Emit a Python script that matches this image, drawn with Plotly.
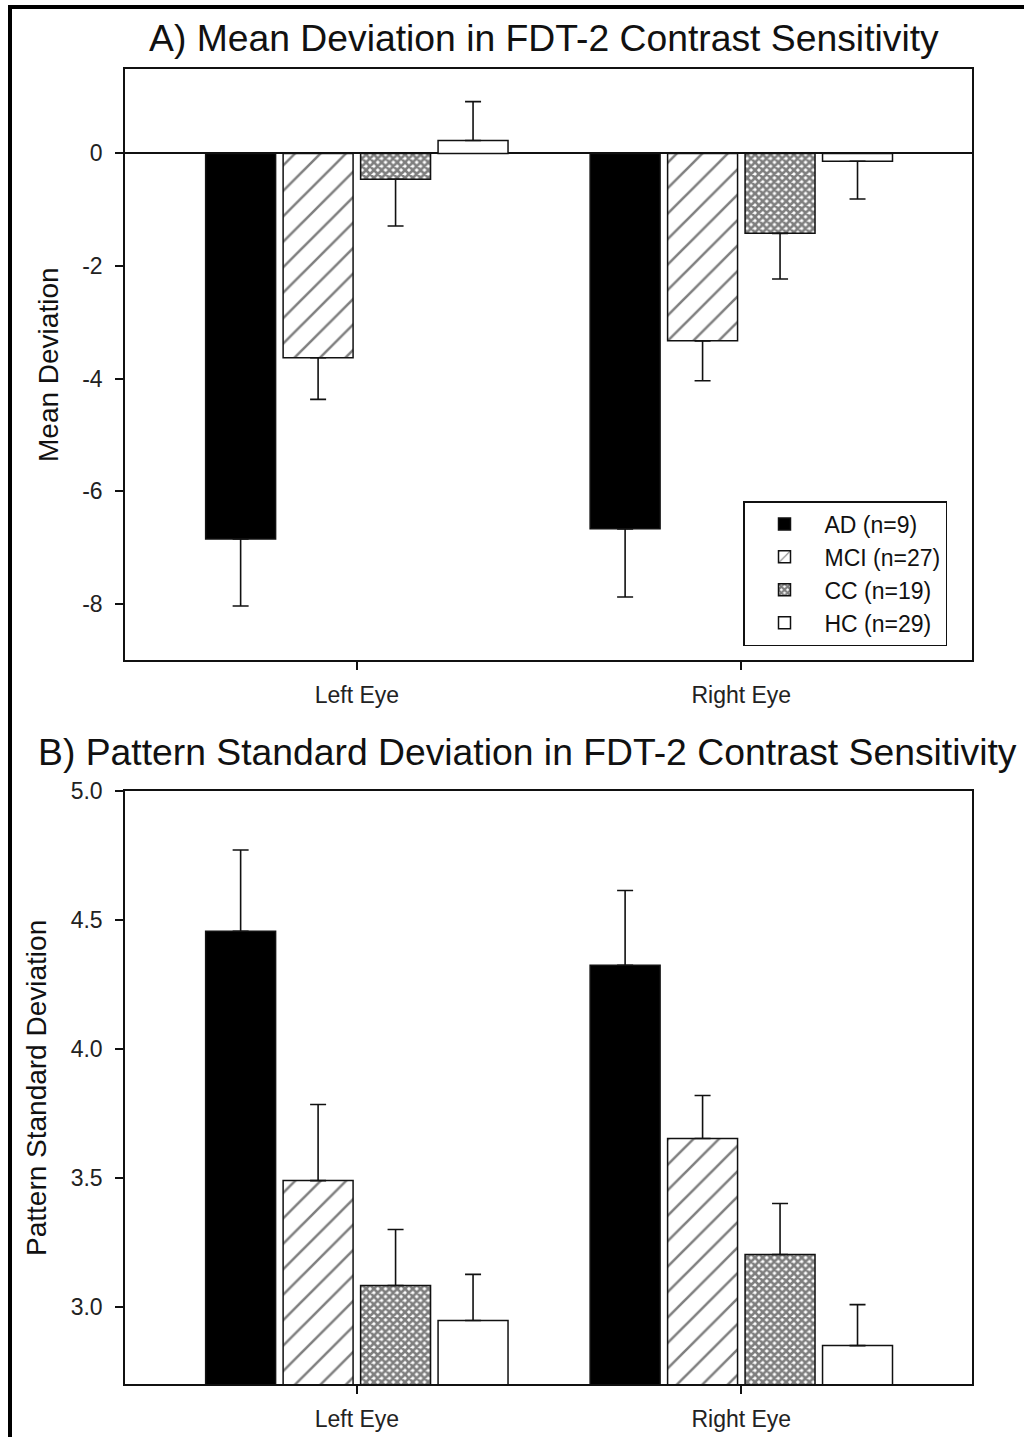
import plotly.graph_objects as go

# ---------------- data ----------------
groups = ["Left Eye", "Right Eye"]
group_pos = [0, 1]
series = ["AD (n=9)", "MCI (n=27)", "CC (n=19)", "HC (n=29)"]

md_AD = [-6.85, -6.67]
md_AD_err = [1.19, 1.21]
md_MCI = [-3.63, -3.33]
md_MCI_err = [0.74, 0.71]
md_CC = [-0.46, -1.42]
md_CC_err = [0.83, 0.81]
md_HC = [0.23, -0.14]
md_HC_err = [0.69, 0.67]

psd_AD = [4.456, 4.324]
psd_AD_err = [0.315, 0.29]
psd_MCI = [3.489, 3.652]
psd_MCI_err = [0.295, 0.167]
psd_CC = [3.082, 3.202]
psd_CC_err = [0.217, 0.198]
psd_HC = [2.946, 2.849]
psd_HC_err = [0.179, 0.159]

md_ticks = [0, -2, -4, -6, -8]
psd_ticks = [3.0, 3.5, 4.0, 4.5, 5.0]

# ---------------- layout helpers ----------------
W, H = 1024, 1437
def px(x):
    return x / W
def py(y):
    return 1 - y / H

INK = "#111111"
FONT = "Liberation Sans, Arial, sans-serif"

markers = [
    dict(color="black", line=dict(color=INK, width=1.5)),
    dict(color="white", line=dict(color=INK, width=1.5),
         pattern=dict(shape="/", fgcolor="black", bgcolor="white", size=18, solidity=0.14)),
    dict(color="white", line=dict(color=INK, width=1.5),
         pattern=dict(shape="x", fgcolor="black", bgcolor="white", size=5.5, solidity=0.72)),
    dict(color="white", line=dict(color=INK, width=1.5)),
]

md_vals = [md_AD, md_MCI, md_CC, md_HC]
md_errs = [md_AD_err, md_MCI_err, md_CC_err, md_HC_err]
psd_vals = [psd_AD, psd_MCI, psd_CC, psd_HC]
psd_errs = [psd_AD_err, psd_MCI_err, psd_CC_err, psd_HC_err]

fig = go.Figure()

for i, name in enumerate(series):
    v = md_vals[i]
    e = md_errs[i]
    up = [ei if vi > 0 else 0 for vi, ei in zip(v, e)]
    dn = [ei if vi < 0 else 0 for vi, ei in zip(v, e)]
    fig.add_trace(go.Bar(
        x=group_pos, y=v, name=name, marker=markers[i],
        error_y=dict(type="data", symmetric=False, array=up, arrayminus=dn,
                     color=INK, thickness=1.6, width=8),
        xaxis="x", yaxis="y", showlegend=True,
    ))

for i, name in enumerate(series):
    v = psd_vals[i]
    e = psd_errs[i]
    fig.add_trace(go.Bar(
        x=group_pos, y=v, name=name, marker=markers[i],
        error_y=dict(type="data", symmetric=False, array=e, arrayminus=[0] * len(e),
                     color=INK, thickness=1.6, width=8),
        xaxis="x2", yaxis="y2", showlegend=False,
    ))

xcommon = dict(
    range=[-0.603, 1.6], tickmode="array", tickvals=group_pos, ticktext=groups,
    ticks="outside", ticklen=8, tickwidth=1.5, tickcolor=INK,
    showline=True, linecolor=INK, linewidth=1.5, mirror=True,
    showgrid=False, zeroline=False, fixedrange=True, automargin=False,
    tickfont=dict(family=FONT, size=23, color="#222"),
    ticklabelstandoff=6,
)
ycommon = dict(
    ticks="outside", ticklen=8, tickwidth=1.5, tickcolor=INK,
    showline=True, linecolor=INK, linewidth=1.5, mirror=True,
    showgrid=False, fixedrange=True, automargin=False,
    tickfont=dict(family=FONT, size=23, color="#222"),
    ticklabelstandoff=8,
)

fig.update_layout(
    width=W, height=H, autosize=False,
    margin=dict(l=0, r=0, t=0, b=0, pad=0, autoexpand=False),
    paper_bgcolor="white", plot_bgcolor="white",
    barmode="group", bargap=0.194, bargroupgap=0.097,
    font=dict(family=FONT, color=INK),
    xaxis=dict(domain=[px(125), px(972)], anchor="y", **xcommon),
    yaxis=dict(domain=[py(660), py(69)], anchor="x", range=[-9, 1.5],
               tickmode="array", tickvals=md_ticks, ticktext=[str(t) for t in md_ticks],
               zeroline=True, zerolinecolor=INK, zerolinewidth=1.5, **ycommon),
    xaxis2=dict(domain=[px(125), px(972)], anchor="y2", **xcommon),
    yaxis2=dict(domain=[py(1384), py(791)], anchor="x2", range=[2.7, 5.0],
                tickmode="array", tickvals=psd_ticks, ticktext=[f"{t:.1f}" for t in psd_ticks],
                zeroline=False, **ycommon),
    legend=dict(
        x=px(743), y=py(501), xanchor="left", yanchor="top",
        bgcolor="white", bordercolor=INK, borderwidth=1.5,
        font=dict(family=FONT, size=23, color=INK),
        itemwidth=70, traceorder="normal", tracegroupgap=0,
        entrywidth=205, entrywidthmode="pixels",
    ),
    showlegend=True,
)

annotations = [
    dict(text="A) Mean Deviation in FDT-2 Contrast Sensitivity", x=px(544), y=py(38),
         font=dict(size=37.3, family=FONT, color=INK)),
    dict(text="B) Pattern Standard Deviation in FDT-2 Contrast Sensitivity", x=px(527), y=py(752),
         font=dict(size=37.3, family=FONT, color=INK)),
    dict(text="Mean Deviation", x=px(48), y=py(365), textangle=-90,
         font=dict(size=28, family=FONT, color=INK)),
    dict(text="Pattern Standard Deviation", x=px(36), y=py(1088), textangle=-90,
         font=dict(size=28, family=FONT, color=INK)),
]
for a in annotations:
    a.update(xref="paper", yref="paper", showarrow=False, xanchor="center", yanchor="middle")
fig.update_layout(annotations=annotations)

# outer frame (top and left edges visible, continues past the page)
fig.add_shape(type="rect", xref="paper", yref="paper",
              x0=px(10), y0=-0.05, x1=1.05, y1=py(7),
              line=dict(color="black", width=4), fillcolor="rgba(0,0,0,0)", layer="above")

fig.write_html("out.html")
